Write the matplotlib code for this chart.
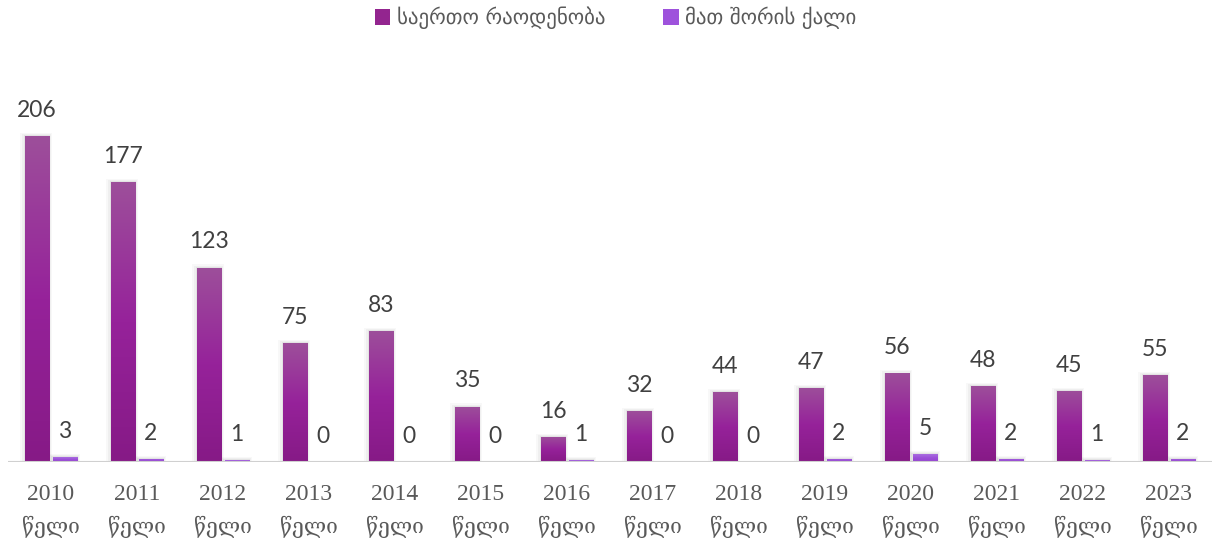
import matplotlib
matplotlib.use("Agg")
import matplotlib.pyplot as plt
import numpy as np
from matplotlib.patches import Rectangle, Patch
from matplotlib.colors import LinearSegmentedColormap
import matplotlib.transforms as mtransforms

years = ["2010", "2011", "2012", "2013", "2014", "2015", "2016", "2017",
         "2018", "2019", "2020", "2021", "2022", "2023"]
year_word = "წელი"
total = [206, 177, 123, 75, 83, 35, 16, 32, 44, 47, 56, 48, 45, 55]
women = [3, 2, 1, 0, 0, 0, 1, 0, 0, 2, 5, 2, 1, 2]
series_names = ["საერთო რაოდენობა", "მათ შორის ქალი"]

fig = plt.figure(figsize=(12.19, 5.45), dpi=100)
ax = fig.add_axes([8/1219, 1-462/545, (1212-8)/1219, (462-70)/545])
ax.set_xlim(-0.5, len(years)-0.5)
ax.set_ylim(0, 248)

cmap_p = LinearSegmentedColormap.from_list("p", ["#9d4f9b", "#96229a", "#861a86"])
cmap_l = LinearSegmentedColormap.from_list("l", ["#a96de0", "#9b4fd8", "#9443d0"])

w = 0.28
off = 0.162
ppu = 248/392.0
xpu = 1/86.0

def draw_bar(xc, h, cmap, z=3):
    if h <= 0:
        return
    x0 = xc - w/2
    for k, a in [(4, 0.05), (2.5, 0.07), (1.2, 0.10)]:
        ax.add_patch(Rectangle((x0 - k*xpu*1.2, 0), w + k*xpu*2.0, h + k*ppu*0.8,
                               facecolor="#808080", edgecolor="none", alpha=a, zorder=z-1))
    rect = Rectangle((x0, 0), w, h, facecolor="none", edgecolor="none", zorder=z)
    ax.add_patch(rect)
    grad = np.linspace(0, 1, 256).reshape(-1, 1)
    im = ax.imshow(grad, cmap=cmap, aspect="auto", extent=(x0, x0+w, 0, h),
                   origin="upper", zorder=z, interpolation="bilinear")
    im.set_clip_path(rect)

x = np.arange(len(years))
for i in x:
    draw_bar(i - off, total[i], cmap_p)
    draw_bar(i + off, women[i], cmap_l)
    ax.annotate(str(total[i]), (i - off, total[i]), xytext=(0, 18.5), textcoords="offset points",
                ha="center", va="center", fontsize=16.5, color="#404040", family="Lato")
    ax.annotate(str(women[i]), (i + off, women[i]), xytext=(0, 18.5), textcoords="offset points",
                ha="center", va="center", fontsize=16.5, color="#404040", family="Lato")

ax.set_xlim(-0.5, len(years)-0.5)
ax.set_ylim(0, 248)
ax.axhline(0, color="#d0d0d0", lw=1.5, zorder=5)
for s in ax.spines.values():
    s.set_visible(False)
ax.set_yticks([])
ax.set_xticks([])

trans = mtransforms.blended_transform_factory(ax.transData, fig.transFigure)
for i, y in enumerate(years):
    ax.text(i, 1-495/545, y, transform=trans, ha="center", va="center",
            family="Liberation Serif", fontsize=17, color="#595959")
    ax.text(i, 1-527/545, year_word, transform=trans, ha="center", va="center",
            family=["DejaVu Serif", "DejaVu Sans"], fontsize=15, color="#595959")

handles = [Patch(facecolor="#93258f"), Patch(facecolor="#9e52dc")]
fig.legend(handles, series_names, loc="center", bbox_to_anchor=(0.505, 1-18/545), ncol=2,
           frameon=False, prop={"family": "DejaVu Sans", "size": 15}, handlelength=0.75,
           handleheight=0.75, handletextpad=0.3, columnspacing=2.8, labelcolor="#595959")

fig.savefig("out.png", dpi=100)
